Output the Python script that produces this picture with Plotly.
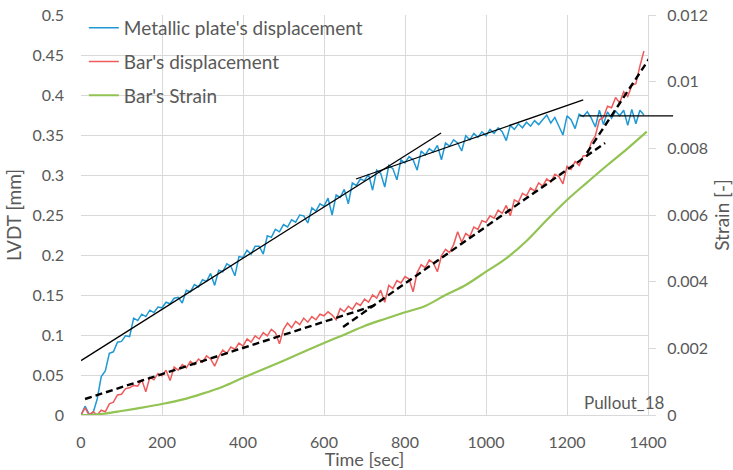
import plotly.graph_objects as go

# ---------------- data ----------------
time_grid = list(range(0, 1400, 10))  # sampling times [sec]

plate_disp = [
    0.000, 0.011, 0.001, 0.003, 0.020, 0.048, 0.055, 0.077, 0.079, 0.091,
    0.092, 0.099, 0.098, 0.121, 0.118, 0.126, 0.123, 0.131, 0.128, 0.135,
    0.134, 0.141, 0.139, 0.146, 0.147, 0.140, 0.156, 0.154, 0.163, 0.160,
    0.169, 0.167, 0.177, 0.162, 0.181, 0.179, 0.189, 0.186, 0.174, 0.198,
    0.197, 0.206, 0.201, 0.211, 0.211, 0.201, 0.224, 0.222, 0.232, 0.229,
    0.238, 0.235, 0.244, 0.241, 0.250, 0.249, 0.240, 0.259, 0.255, 0.264,
    0.261, 0.271, 0.250, 0.275, 0.272, 0.282, 0.264, 0.290, 0.287, 0.295,
    0.293, 0.301, 0.281, 0.306, 0.302, 0.285, 0.312, 0.308, 0.294, 0.319,
    0.315, 0.323, 0.319, 0.306, 0.330, 0.325, 0.333, 0.329, 0.337, 0.319,
    0.340, 0.336, 0.344, 0.340, 0.330, 0.349, 0.344, 0.352, 0.347, 0.354,
    0.349, 0.357, 0.352, 0.359, 0.354, 0.343, 0.362, 0.357, 0.364, 0.359,
    0.366, 0.361, 0.368, 0.363, 0.369, 0.375, 0.365, 0.372, 0.361, 0.350,
    0.374, 0.369, 0.358, 0.376, 0.373, 0.379, 0.371, 0.360, 0.381, 0.363,
    0.379, 0.371, 0.380, 0.374, 0.381, 0.362, 0.382, 0.364, 0.381, 0.375,
]

bar_disp = [
    0.000, 0.009, 0.000, 0.004, 0.000, 0.006, 0.004, 0.014, 0.016, 0.025,
    0.026, 0.033, 0.034, 0.037, 0.036, 0.044, 0.029, 0.047, 0.044, 0.052,
    0.049, 0.056, 0.043, 0.060, 0.056, 0.063, 0.059, 0.067, 0.063, 0.070,
    0.066, 0.074, 0.070, 0.061, 0.073, 0.081, 0.077, 0.085, 0.082, 0.090,
    0.086, 0.095, 0.091, 0.099, 0.095, 0.103, 0.099, 0.107, 0.103, 0.089,
    0.107, 0.115, 0.109, 0.117, 0.113, 0.121, 0.116, 0.123, 0.119, 0.126,
    0.124, 0.129, 0.125, 0.119, 0.133, 0.129, 0.136, 0.132, 0.140, 0.137,
    0.145, 0.141, 0.150, 0.146, 0.156, 0.141, 0.162, 0.158, 0.168, 0.165,
    0.173, 0.170, 0.154, 0.178, 0.188, 0.184, 0.194, 0.190, 0.179, 0.199,
    0.207, 0.203, 0.213, 0.229, 0.216, 0.227, 0.223, 0.235, 0.232, 0.243,
    0.241, 0.249, 0.246, 0.256, 0.252, 0.262, 0.249, 0.269, 0.266, 0.277,
    0.274, 0.284, 0.280, 0.290, 0.286, 0.295, 0.291, 0.301, 0.298, 0.289,
    0.311, 0.307, 0.317, 0.312, 0.324, 0.324, 0.341, 0.349, 0.369, 0.372,
    0.386, 0.384, 0.397, 0.390, 0.404, 0.398, 0.412, 0.414, 0.436, 0.455,
]

strain_time = [0, 25, 50, 75, 100, 150, 200, 250, 300, 350, 400, 450, 500,
               550, 600, 650, 700, 750, 800, 850, 900, 950, 1000, 1050, 1100,
               1150, 1200, 1250, 1300, 1350, 1397]
bar_strain = [0.0, 0.0, 0.00003, 0.00007, 0.00012, 0.00022, 0.00033, 0.00046,
              0.00064, 0.00085, 0.00112, 0.00137, 0.00163, 0.0019, 0.00216,
              0.00241, 0.00267, 0.00288, 0.00308, 0.00327, 0.0036, 0.0039,
              0.0043, 0.0047, 0.00522, 0.00585, 0.00645, 0.00698, 0.0075,
              0.008, 0.0085]

# trend lines (start/end points)
solid_fits = [
    ([0, 889], [0.068, 0.3525]),
    ([679, 1240], [0.295, 0.394]),
]
flat_fit_t = [1227, 1462]
flat_fit_v = [0.374, 0.374]
dashed_fits = [
    ([10, 725], [0.020, 0.137]),
    ([647, 1294], [0.110, 0.340]),
    ([1249, 1422], [0.3275, 0.460]),
]

x_ticks = [0, 200, 400, 600, 800, 1000, 1200, 1400]
label_text = "Pullout_18"

# ---------------- figure ----------------
FONT = "Lato, 'Open Sans', sans-serif"
GREY = "#595959"
GRID = "#d9d9d9"

fig = go.Figure()

fig.add_trace(go.Scatter(x=time_grid, y=plate_disp, mode="lines",
                         name="Metallic plate's displacement",
                         legendgroup="a",
                         line=dict(color="#1f98d4", width=1.5)))
fig.add_trace(go.Scatter(x=time_grid, y=bar_disp, mode="lines",
                         name="Bar's displacement",
                         legendgroup="b",
                         line=dict(color="#ef5b5b", width=1.5)))
fig.add_trace(go.Scatter(x=strain_time, y=bar_strain, mode="lines",
                         name="Bar's Strain", yaxis="y2",
                         legendgroup="c",
                         line=dict(color="#92c353", width=2.2, shape="spline")))

for xs, ys in solid_fits:
    fig.add_trace(go.Scatter(x=xs, y=ys, mode="lines", showlegend=False,
                             hoverinfo="skip",
                             line=dict(color="black", width=1.3)))
for xs, ys in dashed_fits:
    fig.add_trace(go.Scatter(x=xs, y=ys, mode="lines", showlegend=False,
                             hoverinfo="skip",
                             line=dict(color="black", width=2.4, dash="7px,4px")))

# horizontal fit line that overhangs the plot area
fig.add_annotation(x=flat_fit_t[1], y=flat_fit_v[1], xref="x", yref="y",
                   ax=flat_fit_t[0], ay=flat_fit_v[0], axref="x", ayref="y",
                   text="", showarrow=True, arrowhead=0, arrowwidth=1.3,
                   arrowcolor="black", standoff=0, startstandoff=0)

fig.add_annotation(x=1341, y=0.016, xref="x", yref="y", text=label_text,
                   showarrow=False, font=dict(family=FONT, size=17, color=GREY))

fig.update_layout(
    width=733, height=470,
    margin=dict(l=81, r=85, t=15, b=55, autoexpand=False),
    paper_bgcolor="white", plot_bgcolor="white",
    font=dict(family=FONT, size=16, color=GREY),
    legend=dict(x=0.005, y=1.015, xanchor="left", yanchor="top",
                bgcolor="rgba(0,0,0,0)", font=dict(size=19, color=GREY),
                tracegroupgap=6),
    xaxis=dict(range=[0, 1400], tickvals=x_ticks, showgrid=True,
               gridcolor=GRID, gridwidth=1, zeroline=False,
               showline=True, linecolor=GRID, linewidth=1, ticks="",
               ticklabelstandoff=13, automargin=False,
               title=dict(text="Time [sec]", font=dict(size=18), standoff=1)),
    yaxis=dict(range=[0, 0.5], dtick=0.05, showgrid=True, gridcolor=GRID,
               gridwidth=1, zeroline=False, showline=False, ticks="",
               ticklabelstandoff=16, automargin=False,
               title=dict(text="LVDT [mm]", font=dict(size=19), standoff=5)),
    yaxis2=dict(range=[0, 0.012], dtick=0.002, overlaying="y", side="right",
                showgrid=False, zeroline=False, showline=True, linecolor=GRID,
                linewidth=1, ticks="outside", ticklen=7, tickcolor=GRID,
                ticklabelstandoff=8, automargin=False,
                title=dict(text="Strain [-]", font=dict(size=19), standoff=9)),
)

fig.write_html("out.html")
